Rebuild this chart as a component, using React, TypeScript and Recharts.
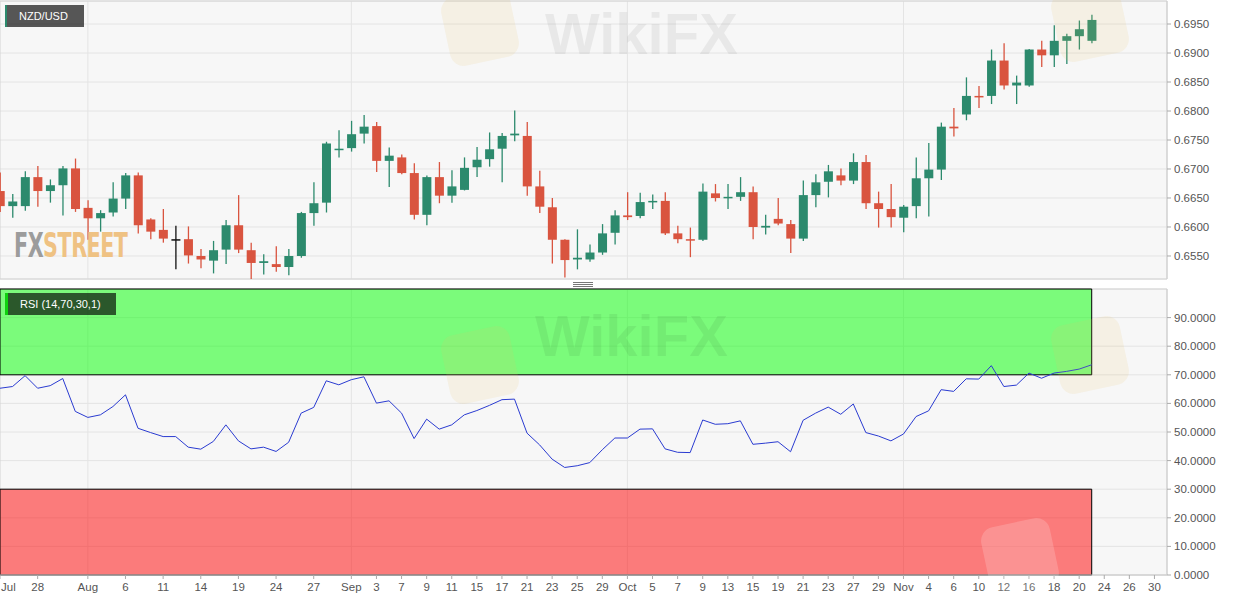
import React from "react";
import {
  ComposedChart,
  Bar,
  Line,
  XAxis,
  YAxis,
  CartesianGrid,
  ReferenceArea,
} from "recharts";

// NZD/USD daily candles, 23 Jul - 23 Nov 2020 (one entry per trading day)
const opens = [
  0.6662, 0.6636, 0.6636, 0.6686, 0.6662, 0.6672, 0.6701, 0.6633, 0.6615, 0.6625,
  0.6649, 0.6689, 0.6613, 0.6595, 0.6579, 0.6579, 0.655, 0.6542, 0.6561, 0.6603,
  0.656, 0.6538, 0.6536, 0.6531, 0.655, 0.6624, 0.6642, 0.6733, 0.6736, 0.6761,
  0.6774, 0.6714, 0.672, 0.6693, 0.6621, 0.6686, 0.6654, 0.6664, 0.6703, 0.6717,
  0.6735, 0.6758, 0.6757, 0.667, 0.6634, 0.6578, 0.6544, 0.6544, 0.6556, 0.659,
  0.662, 0.6619, 0.6643, 0.6645, 0.6589, 0.6579, 0.6578, 0.6658, 0.665, 0.6652,
  0.666, 0.6599, 0.6614, 0.6605, 0.658, 0.6655, 0.6678, 0.6689, 0.668, 0.6712,
  0.6641, 0.6631, 0.6616, 0.6636, 0.6684, 0.6699, 0.6773, 0.6794, 0.6826, 0.6826,
  0.6887, 0.6844, 0.6844, 0.6906, 0.6896, 0.6921, 0.6929, 0.6921,
];
const highs = [
  0.6694, 0.6657, 0.6696, 0.6705, 0.6682, 0.6705, 0.6718, 0.6646, 0.6629, 0.6677,
  0.6693, 0.6694, 0.6615, 0.6631, 0.6602, 0.6601, 0.6562, 0.6576, 0.6612, 0.6655,
  0.6573, 0.6553, 0.6567, 0.6562, 0.6626, 0.6677, 0.6747, 0.6767, 0.6783, 0.6793,
  0.6781, 0.6737, 0.6725, 0.671, 0.6689, 0.6712, 0.6698, 0.672, 0.6738, 0.6763,
  0.6762, 0.6801, 0.6781, 0.6697, 0.665, 0.6579, 0.6596, 0.657, 0.6605, 0.6629,
  0.666, 0.6659, 0.6656, 0.666, 0.6602, 0.6599, 0.6675, 0.6674, 0.6674, 0.6686,
  0.667, 0.6621, 0.665, 0.6612, 0.668, 0.6691, 0.6707, 0.6701, 0.6727, 0.6724,
  0.6661, 0.6674, 0.6638, 0.672, 0.6745, 0.678, 0.6805, 0.6858, 0.6843, 0.6906,
  0.6917, 0.6861, 0.6907, 0.6921, 0.6948, 0.6933, 0.6956, 0.6966,
];
const lows = [
  0.6626, 0.6616, 0.6628, 0.6635, 0.6642, 0.662, 0.6626, 0.6578, 0.6592, 0.6618,
  0.6631, 0.6589, 0.6579, 0.6573, 0.6527, 0.6537, 0.6529, 0.652, 0.6536, 0.6555,
  0.651, 0.6518, 0.6523, 0.6517, 0.6547, 0.6602, 0.6625, 0.672, 0.673, 0.6744,
  0.6695, 0.6669, 0.6691, 0.6613, 0.6603, 0.6641, 0.6642, 0.6663, 0.6686, 0.6704,
  0.6677, 0.6748, 0.6654, 0.6624, 0.6537, 0.6513, 0.6527, 0.654, 0.6552, 0.657,
  0.6612, 0.6615, 0.6631, 0.6586, 0.6572, 0.6548, 0.6576, 0.6644, 0.6631, 0.6645,
  0.6579, 0.6587, 0.6603, 0.6555, 0.6576, 0.6634, 0.6651, 0.6672, 0.6674, 0.6631,
  0.6599, 0.6599, 0.6591, 0.6615, 0.6618, 0.6681, 0.6756, 0.6784, 0.6805, 0.6812,
  0.6837, 0.6812, 0.6842, 0.6876, 0.6876, 0.6881, 0.6906, 0.6917,
];
const closes = [
  0.6636, 0.6644, 0.6686, 0.6662, 0.6672, 0.6701, 0.6631, 0.6615, 0.6624, 0.6649,
  0.6689, 0.6603, 0.6592, 0.658, 0.6579, 0.6551, 0.6544, 0.656, 0.6603, 0.6561,
  0.6538, 0.6541, 0.6531, 0.655, 0.6624, 0.6641, 0.6744, 0.6735, 0.676, 0.6773,
  0.6714, 0.6723, 0.6693, 0.6621, 0.6686, 0.6654, 0.667, 0.6702, 0.6716, 0.6734,
  0.6757, 0.6761, 0.667, 0.6635, 0.6578, 0.6543, 0.6547, 0.6556, 0.6589, 0.662,
  0.6617, 0.6643, 0.6645, 0.6589, 0.6579, 0.6577, 0.6661, 0.665, 0.6652, 0.666,
  0.66, 0.6602, 0.6606, 0.658, 0.6655, 0.6677, 0.6696, 0.668, 0.6712, 0.6641,
  0.6631, 0.6617, 0.6635, 0.6684, 0.6699, 0.6773, 0.677, 0.6826, 0.6825, 0.6887,
  0.6844, 0.6849, 0.6906, 0.6896, 0.6921, 0.6929, 0.6941, 0.6957,
];

// RSI (14) for the same days
const rsiValues = [
  65.3, 65.9, 69.7, 65.3, 66.2, 68.7, 57.2, 55.1, 56.0, 58.9,
  63.0, 51.3, 49.8, 48.4, 48.4, 44.7, 44.0, 46.7, 52.5, 46.9,
  44.1, 44.7, 43.2, 46.4, 56.6, 58.6, 67.9, 66.5, 68.3, 69.3,
  60.1, 60.9, 56.6, 47.7, 54.5, 51.0, 52.5, 56.0, 57.5, 59.3,
  61.3, 61.5, 49.6, 45.5, 40.5, 37.6, 38.2, 39.3, 43.8, 47.9,
  47.9, 51.0, 51.1, 44.1, 42.9, 42.8, 54.2, 52.7, 52.9, 53.9,
  45.7, 46.1, 46.6, 43.1, 54.1, 56.6, 58.7, 56.2, 59.8, 49.8,
  48.6, 46.9, 49.3, 55.4, 57.4, 64.8, 64.2, 68.6, 68.5, 73.2,
  65.9, 66.4, 70.6, 68.8, 70.6, 71.2, 72.0, 73.5,
];

// date axis: trading-day index -> label (axis runs to 30 Nov)
const tickIndex = [
  0, 3, 7, 10, 13, 16, 19, 22, 25, 28, 30, 32, 34, 36, 38, 40, 42, 44, 46, 48,
  50, 52, 54, 56, 58, 60, 62, 64, 66, 68, 70, 72, 74, 76, 78, 80, 82, 84, 86, 88, 90, 92,
];
const tickLabels = [
  "Jul", "28", "Aug", "6", "11", "14", "19", "24", "27", "Sep", "3", "7", "9", "11", "15", "17", "21", "23", "25", "29",
  "Oct", "5", "7", "9", "13", "15", "19", "21", "23", "27", "29", "Nov", "4", "6", "10", "12", "16", "18", "20", "24", "26", "30",
];
const monthStarts = [7, 28, 50, 72];
const lastDay = 93;

const priceTicks = [0.655, 0.66, 0.665, 0.67, 0.675, 0.68, 0.685, 0.69, 0.695];
const priceDomain = [0.651034, 0.698966];
const rsiTicks = [0, 10, 20, 30, 40, 50, 60, 70, 80, 90];
const rsiUpper = 70;
const rsiLower = 30;

const candles = opens.map((open, i) => ({
  i,
  open,
  high: highs[i],
  low: lows[i],
  close: closes[i],
}));
const rsiData = rsiValues.map((rsi, i) => ({ i, rsi }));

const FONT = "'Liberation Sans', Arial, sans-serif";
const UP = "#2c8a6d";
const DOWN = "#d9543f";
const GRID = "#e4e4e4";
const PLOT_BG = "#f7f7f7";

function Candle(props: any) {
  const { x, y, width, height, payload } = props;
  if (!payload || height == null) return null;
  const { open, close, high, low } = payload;
  const cx = x + width / 2;
  const span = high - low || 1;
  const toY = (v: number) => y + ((high - v) / span) * height;
  const yo = toY(open);
  const yc = toY(close);
  const color = close > open ? UP : close < open ? DOWN : "#111";
  const top = Math.min(yo, yc);
  const h = Math.max(Math.abs(yc - yo), 1.5);
  return (
    <g>
      <line x1={cx} x2={cx} y1={y} y2={y + height} stroke={color} strokeWidth={1.3} />
      <rect x={x} y={top} width={width} height={h} fill={color} />
    </g>
  );
}

const monthLines = ({ xAxis, offset }: any) =>
  monthStarts.map((m) =>
    xAxis && typeof xAxis.scale === "function"
      ? xAxis.scale(m)
      : offset.left + (m / lastDay) * offset.width
  );

function DateTick(props: any) {
  const { x, y, payload } = props;
  const k = tickIndex.indexOf(payload.value);
  const edge = x < 8;
  return (
    <text
      x={edge ? x + 1 : x}
      y={y}
      dy={9}
      textAnchor={edge ? "start" : "middle"}
      fill="#555"
      fontSize={11.5}
      fontFamily={FONT}
    >
      {tickLabels[k]}
    </text>
  );
}

function PriceChart() {
  return (
    <ComposedChart width={1243} height={280} data={candles} margin={{ top: 1, right: 0, bottom: 1, left: 0 }}>
      <CartesianGrid stroke={GRID} fill={PLOT_BG} verticalCoordinatesGenerator={monthLines} />
      <XAxis type="number" dataKey="i" domain={[0, lastDay]} allowDataOverflow hide />
      <YAxis
        orientation="right"
        width={76}
        domain={priceDomain}
        allowDataOverflow
        ticks={priceTicks}
        interval={0}
        tickFormatter={(v: number) => v.toFixed(4)}
        tick={{ fill: "#555", fontSize: 11.5, fontFamily: FONT, textAnchor: "start" }}
        tickSize={4}
        tickMargin={3}
        axisLine={{ stroke: "#cfcfcf" }}
        tickLine={{ stroke: "#aaa" }}
      />
      <ReferenceArea x1={0} x2={lastDay} y1={priceDomain[0]} y2={priceDomain[1]} fill="none" stroke="#d4d4d4" />
      <Bar
        dataKey={(d: any) => [d.low, d.high]}
        barSize={9}
        shape={<Candle />}
        isAnimationActive={false}
      />
    </ComposedChart>
  );
}

function RsiChart() {
  const lastIdx = rsiValues.length - 1;
  return (
    <ComposedChart width={1243} height={319} data={rsiData} margin={{ top: 6, right: 0, bottom: 0, left: 0 }}>
      <CartesianGrid stroke={GRID} fill={PLOT_BG} verticalCoordinatesGenerator={monthLines} />
      <XAxis
        type="number"
        dataKey="i"
        domain={[0, lastDay]}
        allowDataOverflow
        ticks={tickIndex}
        interval={0}
        height={27}
        tick={<DateTick />}
        tickSize={4}
        tickMargin={3}
        axisLine={{ stroke: "#cfcfcf" }}
        tickLine={{ stroke: "#aaa" }}
      />
      <YAxis
        orientation="right"
        width={76}
        domain={[0, 100]}
        allowDataOverflow
        ticks={rsiTicks}
        interval={0}
        tickFormatter={(v: number) => v.toFixed(4)}
        tick={{ fill: "#555", fontSize: 11.5, fontFamily: FONT, textAnchor: "start" }}
        tickSize={4}
        tickMargin={3}
        axisLine={{ stroke: "#cfcfcf" }}
        tickLine={{ stroke: "#aaa" }}
      />
      <ReferenceArea x1={0} x2={lastDay} y1={0} y2={100} fill="none" stroke="#d4d4d4" />
      <ReferenceArea x1={0} x2={lastIdx} y1={rsiUpper} y2={100} fill="#00ff00" fillOpacity={0.5} stroke="#000" />
      <ReferenceArea x1={0} x2={lastIdx} y1={0} y2={rsiLower} fill="#ff0000" fillOpacity={0.5} stroke="#000" />
      <Line
        type="linear"
        dataKey="rsi"
        stroke="#2a3bd1"
        strokeWidth={1}
        dot={false}
        isAnimationActive={false}
      />
    </ComposedChart>
  );
}

const tag: React.CSSProperties = {
  position: "absolute",
  background: "rgba(0,0,0,0.65)",
  color: "#fff",
  fontSize: 11,
  fontFamily: FONT,
  lineHeight: "22px",
  boxSizing: "border-box",
};

const wm: React.CSSProperties = {
  position: "absolute",
  fontFamily: FONT,
  fontWeight: 700,
  fontSize: 58,
  lineHeight: "68px",
  color: "rgba(0,0,0,0.06)",
  whiteSpace: "nowrap",
  pointerEvents: "none",
};
const logo: React.CSSProperties = {
  position: "absolute",
  width: 70,
  height: 70,
  borderRadius: 14,
  background: "rgba(235,190,100,0.13)",
  transform: "rotate(-12deg)",
  pointerEvents: "none",
};

export default function App() {
  return (
    <div
      style={{
        position: "absolute",
        left: 0,
        top: 0,
        width: 1243,
        height: 602,
        background: "#fff",
        overflow: "hidden",
        fontFamily: FONT,
      }}
    >
      <div style={{ position: "absolute", left: 0, top: 0 }}>
        <PriceChart />
      </div>
      <div style={{ position: "absolute", left: 0, top: 283 }}>
        <RsiChart />
      </div>

      {/* panel resize handle */}
      {[282, 284, 286].map((t) => (
        <div key={t} style={{ position: "absolute", left: 573, top: t, width: 20, height: 1, background: "#777" }} />
      ))}

      {/* WikiFX watermarks (under the labels) */}
      <div style={{ ...logo, left: 445, top: -8 }} />
      <div style={{ ...wm, left: 545, top: 0 }}>WikiFX</div>
      <div style={{ ...logo, left: 1055, top: -12 }} />
      <div style={{ ...logo, left: 445, top: 330 }} />
      <div style={{ ...wm, left: 535, top: 302 }}>WikiFX</div>
      <div style={{ ...logo, left: 1055, top: 320 }} />
      <div style={{ ...logo, left: 985, top: 522, background: "rgba(255,255,255,0.18)" }} />

      <div style={{ ...tag, left: 5, top: 5, width: 79, height: 22, paddingLeft: 12, borderLeft: "2px solid " + UP }}>
        NZD/USD
      </div>
      <div style={{ ...tag, left: 5, top: 293, width: 111, height: 22, paddingLeft: 12, borderLeft: "3px solid #10d010" }}>
        RSI (14,70,30,1)
      </div>

      {/* FXStreet logo */}
      <div
        style={{
          position: "absolute",
          left: 14,
          top: 228,
          whiteSpace: "nowrap",
          fontFamily: "'DejaVu Sans Condensed', 'Liberation Sans Narrow', sans-serif",
          fontWeight: 700,
          fontSize: 23,
          lineHeight: "24px",
          letterSpacing: -0.5,
          transform: "scale(1, 1.45)",
          transformOrigin: "0 0",
        }}
      >
        <span style={{ color: "#9c9c9c" }}>FX</span>
        <span style={{ color: "#efc283" }}>STREET</span>
      </div>
    </div>
  );
}
